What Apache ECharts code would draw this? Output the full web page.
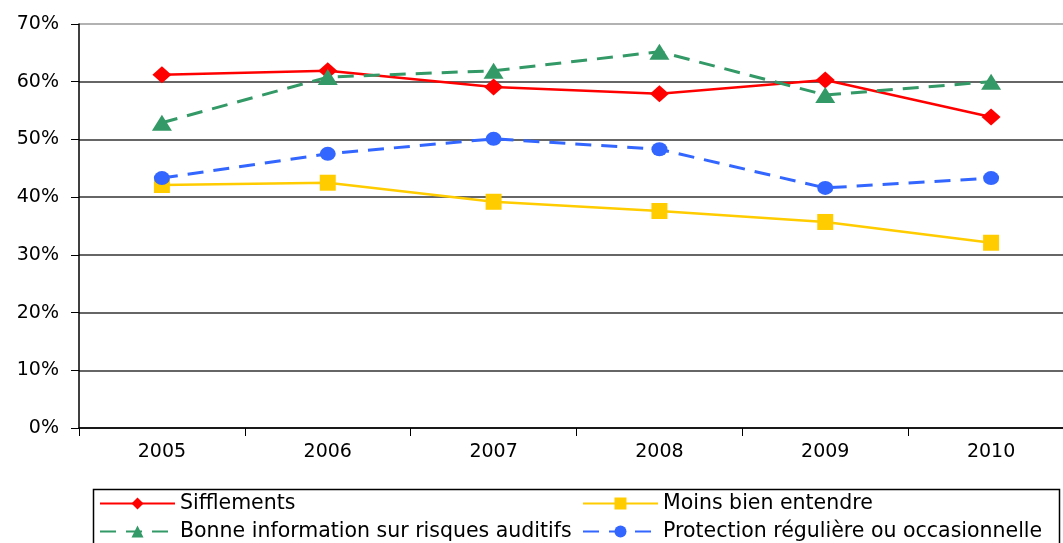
<!DOCTYPE html>
<html>
<head>
<meta charset="utf-8">
<script src="https://cdn.jsdelivr.net/npm/echarts@6/dist/echarts.min.js"></script>
<style>
  html, body { margin: 0; padding: 0; background: #fff; }
  #main { width: 1063px; height: 543px; }
</style>
</head>
<body>
<div id="main"></div>
<script>
    "use strict";

    // data (percent)
    var years = ["2005", "2006", "2007", "2008", "2009", "2010"];
    var sifflements = [61.2, 61.9, 59.1, 57.9, 60.3, 53.9];
    var moinsBienEntendre = [42.1, 42.5, 39.2, 37.6, 35.7, 32.1];
    var bonneInformation = [52.9, 60.8, 61.9, 65.2, 57.7, 60.0];
    var protection = [43.3, 47.5, 50.1, 48.3, 41.6, 43.3];

    var FONT = "DejaVu Sans";

    var myChart = echarts.init(document.getElementById('main'));

    // one legend per entry so the two columns line up like the original
    function legendItem(name, left, top) {
        return {
            left: left,
            top: top,
            padding: 0,
            itemWidth: 75,
            itemHeight: 15,
            itemGap: 0,
            textStyle: { color: '#000', fontFamily: FONT, fontSize: 20.5 },
            data: [name]
        };
    }

    var option = {
        animation: false,
        backgroundColor: '#fff',
        grid: { left: 79, top: 24, width: 995, bottom: 115, outerBoundsMode: 'none', containLabel: false },
        xAxis: {
            type: 'category',
            data: years,
            boundaryGap: true,
            axisLine: { lineStyle: { color: '#000', width: 1.5 } },
            axisTick: { show: true, interval: 0, length: 8, lineStyle: { color: '#000' } },
            axisLabel: { color: '#000', fontFamily: FONT, fontSize: 19, margin: 15 }
        },
        yAxis: {
            type: 'value',
            min: 0,
            max: 70,
            interval: 10,
            axisLine: { show: true, lineStyle: { color: '#000', width: 1.5 } },
            axisTick: { show: true, length: 8, lineStyle: { color: '#000' } },
            axisLabel: { color: '#000', fontFamily: FONT, fontSize: 19, margin: 20, formatter: '{value}%' },
            splitLine: {
                lineStyle: {
                    color: ['#333', '#333', '#333', '#333', '#333', '#333', '#333', '#999'],
                    width: 1.5
                }
            }
        },
        legend: [
            legendItem('Sifflements', 99, 493),
            legendItem('Bonne information sur risques auditifs', 99, 521),
            legendItem('Moins bien entendre', 582, 493),
            legendItem('Protection régulière ou occasionnelle', 582, 521)
        ],
        graphic: [{
            type: 'rect',
            left: 91,
            top: 487,
            shape: { width: 966, height: 70 },
            style: { fill: 'none', stroke: '#000', lineWidth: 1.5 },
            silent: true
        }],
        series: [{
            name: 'Sifflements',
            type: 'line',
            data: sifflements,
            symbol: 'diamond',
            symbolSize: [19, 17],
            color: '#ff0000',
            lineStyle: { width: 2.5, color: '#ff0000' }
        }, {
            name: 'Moins bien entendre',
            type: 'line',
            data: moinsBienEntendre,
            symbol: 'rect',
            symbolSize: 16,
            color: '#ffcc00',
            lineStyle: { width: 2.5, color: '#ffcc00' }
        }, {
            name: 'Bonne information sur risques auditifs',
            type: 'line',
            data: bonneInformation,
            symbol: 'triangle',
            symbolSize: [20, 16],
            color: '#339966',
            lineStyle: { width: 3, color: '#339966', type: [16, 10] }
        }, {
            name: 'Protection régulière ou occasionnelle',
            type: 'line',
            data: protection,
            symbol: 'circle',
            symbolSize: [16, 14],
            color: '#3366ff',
            lineStyle: { width: 3, color: '#3366ff', type: [16, 10] }
        }]
    };

    myChart.setOption(option);
    window.myChart = myChart;
</script>
</body>
</html>
